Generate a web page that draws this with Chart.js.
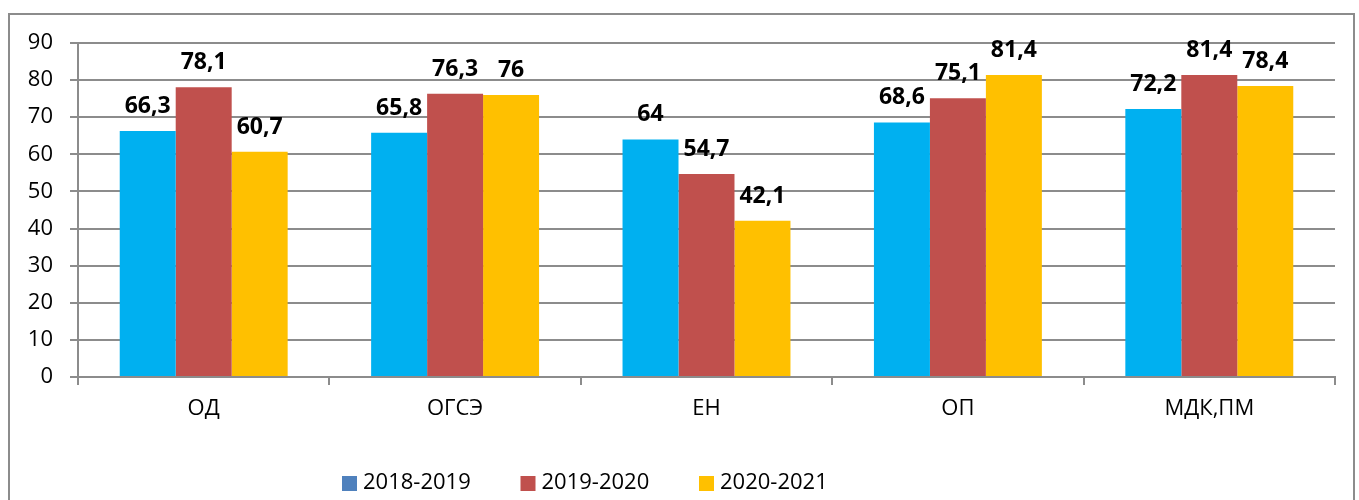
<!DOCTYPE html>
<html>
<head>
<meta charset="utf-8">
<script src="https://cdn.jsdelivr.net/npm/chart.js@4"></script>
<style>
  html, body { margin: 0; padding: 0; background: #fff; }
  #wrap { position: relative; width: 1359px; height: 500px; overflow: hidden; }
  #frame {
    position: absolute; left: 8px; top: 13px; width: 1347px; height: 600px;
    border: 2px solid #8c8c8c; box-sizing: border-box;
  }
  #chart { position: absolute; left: 0; top: 0; }
</style>
</head>
<body>
<div id="wrap">
  <div id="frame"></div>
  <canvas id="chart" width="1359" height="500"></canvas>
</div>
<script>
const categories = ['ОД', 'ОГСЭ', 'ЕН', 'ОП', 'МДК,ПМ'];
const seriesNames = ['2018-2019', '2019-2020', '2020-2021'];
const values2018 = [66.3, 65.8, 64, 68.6, 72.2];
const values2019 = [78.1, 76.3, 54.7, 75.1, 81.4];
const values2020 = [60.7, 76, 42.1, 81.4, 78.4];
const yTicks = [0, 10, 20, 30, 40, 50, 60, 70, 80, 90];

const barColors = ['#00B0F0', '#C0504D', '#FFC000'];
const legendColors = ['#4F81BD', '#C0504D', '#FFC000'];
const gridColor = '#8c8c8c';
const fontFamily = "'Open Sans', 'DejaVu Sans', sans-serif";

const dataLabels = {
  id: 'dataLabels',
  afterDatasetsDraw(chart) {
    const ctx = chart.ctx;
    ctx.save();
    ctx.font = `bold 23px ${fontFamily}`;
    ctx.fillStyle = '#000';
    ctx.textAlign = 'center';
    ctx.textBaseline = 'alphabetic';
    chart.data.datasets.forEach((ds, i) => {
      chart.getDatasetMeta(i).data.forEach((bar, j) => {
        const text = String(ds.data[j]).replace('.', ',');
        ctx.fillText(text, bar.x, bar.y - 18);
      });
    });
    ctx.restore();
  },
};

const bottomLegend = {
  id: 'bottomLegend',
  afterDraw(chart) {
    const ctx = chart.ctx;
    ctx.save();
    ctx.font = `22px ${fontFamily}`;
    ctx.textBaseline = 'middle';
    ctx.textAlign = 'left';
    seriesNames.forEach((name, i) => {
      const x = 342 + i * 178.5;
      ctx.fillStyle = legendColors[i];
      ctx.fillRect(x, 476, 15, 15);
      ctx.fillStyle = '#000';
      ctx.fillText(name, x + 21, 483);
    });
    ctx.restore();
  },
};

new Chart(document.getElementById('chart'), {
  type: 'bar',
  data: {
    labels: categories,
    datasets: [
      { label: seriesNames[0], data: values2018, backgroundColor: barColors[0] },
      { label: seriesNames[1], data: values2019, backgroundColor: barColors[1] },
      { label: seriesNames[2], data: values2020, backgroundColor: barColors[2] },
    ],
  },
  options: {
    responsive: false,
    animation: false,
    events: [],
    layout: { padding: { left: 0, top: 43, right: 24, bottom: 0 } },
    datasets: {
      bar: { categoryPercentage: 0.668, barPercentage: 1.0 },
    },
    plugins: {
      legend: { display: false },
      tooltip: { enabled: false },
    },
    scales: {
      x: {
        afterFit(scale) {
          scale.height = 123;
        },
        grid: {
          display: true,
          offset: true,
          drawOnChartArea: false,
          drawTicks: true,
          tickLength: 8,
          color: gridColor,
          lineWidth: 2,
        },
        border: { display: true, color: gridColor, width: 2 },
        ticks: {
          color: '#000',
          padding: 11,
          font: { size: 22, family: fontFamily },
        },
      },
      y: {
        min: 0,
        max: 90,
        afterFit(scale) {
          scale.width = 78;
        },
        afterBuildTicks(scale) {
          scale.ticks = yTicks.map((v) => ({ value: v }));
        },
        grid: {
          color: gridColor,
          lineWidth: 2,
          drawTicks: true,
          tickLength: 8,
        },
        border: { display: true, color: gridColor, width: 2 },
        ticks: {
          color: '#000',
          padding: 17,
          font: { size: 22, family: fontFamily },
        },
      },
    },
  },
  plugins: [dataLabels, bottomLegend],
});
</script>
</body>
</html>
